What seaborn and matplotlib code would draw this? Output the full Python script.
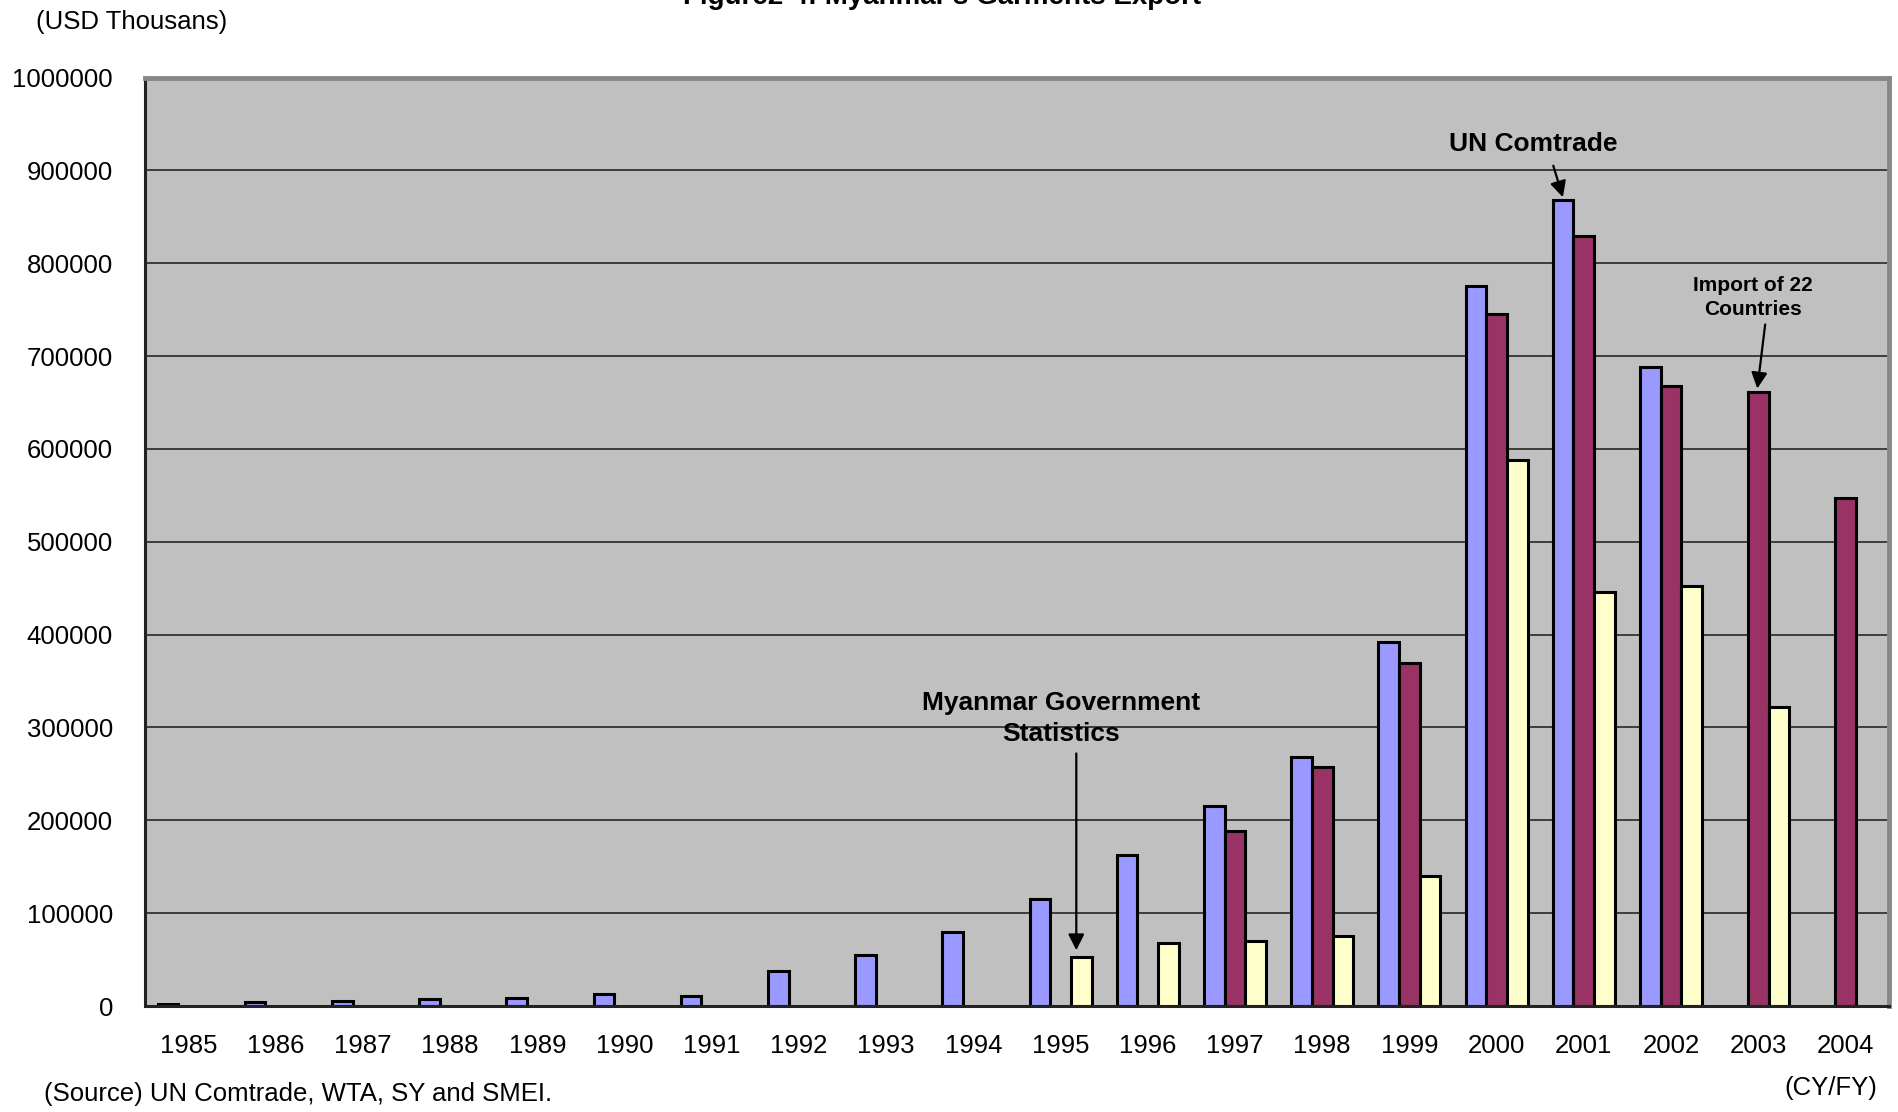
import numpy as np
import pandas as pd
import matplotlib
matplotlib.use("Agg")
import matplotlib.pyplot as plt
import seaborn as sns

# Annual garments export values (USD thousands); None = not available
years = list(range(1985, 2005))
un_comtrade = [2500, 4000, 5000, 8000, 9000, 13000, 11000, 38000, 55000, 80000,
               115000, 163000, 215000, 268000, 392000, 775000, 868000, 688000, None, None]
import_22 = [None, None, None, None, None, None, None, None, None, None,
             None, None, 189000, 257000, 369000, 745000, 829000, 668000, 661000, 547000]
gov_stats = [None, None, None, None, None, None, None, None, None, None,
             53000, 68000, 70000, 75000, 140000, 588000, 446000, 452000, 322000, None]

series_names = ["UN Comtrade", "Import of 22 Countries", "Myanmar Government Statistics"]
series_colors = ["#9999FF", "#993366", "#FFFFCC"]
y_ticks = list(range(0, 1000001, 100000))

rows = []
for name, vals in zip(series_names, [un_comtrade, import_22, gov_stats]):
    for yr, v in zip(years, vals):
        if v is not None:
            rows.append({"year": str(yr), "series": name, "value": v})
df = pd.DataFrame(rows)

sns.set_theme(style="white")
plt.rcParams["font.family"] = ["Liberation Sans", "DejaVu Sans"]
plt.rcParams["text.color"] = "black"
plt.rcParams["xtick.color"] = "black"
plt.rcParams["ytick.color"] = "black"
FS = 18.5

fig = plt.figure(figsize=(18.99, 11.12), dpi=100)
ax = fig.add_axes([145 / 1899, 1 - 1006 / 1112, (1889 - 145) / 1899, (1006 - 77.5) / 1112])
ax.set_facecolor("#C0C0C0")

sns.barplot(data=df, x="year", y="value", hue="series", hue_order=series_names,
            order=[str(y) for y in years], palette=series_colors, width=0.71,
            edgecolor="black", linewidth=2.2, errorbar=None, ax=ax, legend=False,
            saturation=1)

ax.set_xlim(-0.5, len(years) - 0.5)
ax.set_ylim(0, 1000000)
ax.set_yticks(y_ticks)
ax.set_yticklabels([str(t) for t in y_ticks], fontsize=FS)
ax.set_xticks(range(len(years)))
ax.set_xticklabels([str(y) for y in years], fontsize=FS)
ax.set_xticks(np.arange(-0.5, len(years), 1.0), minor=True)
ax.tick_params(axis="x", which="major", length=0, pad=20)
ax.tick_params(axis="x", which="minor", direction="in", length=9, width=1.2, color="#333333")
ax.tick_params(axis="y", which="major", direction="in", length=9, width=1.5, color="#333333", pad=23)
ax.set_xlabel("")
ax.set_ylabel("")

ax.set_axisbelow(True)
ax.yaxis.grid(True, color="#333333", linewidth=1.3)
ax.xaxis.grid(False)

for side in ["left", "bottom"]:
    ax.spines[side].set_color("#222222")
    ax.spines[side].set_linewidth(2.2)
for side in ["top", "right"]:
    ax.spines[side].set_color("#888888")
    ax.spines[side].set_linewidth(3.5)

# Series call-outs with arrows pointing at the bars
arrow = dict(arrowstyle="-|>", color="black", lw=1.6, mutation_scale=24,
             shrinkA=0, shrinkB=0)
ax.text(15.42, 915000, "UN Comtrade", ha="center", va="bottom",
        fontsize=19, fontweight="bold")
ax.annotate("", xy=(15.76, 871000), xytext=(15.65, 905000), arrowprops=arrow)

ax.text(10.0, 280000, "Myanmar Government\nStatistics", ha="center", va="bottom",
        fontsize=19, fontweight="bold", linespacing=1.35)
ax.annotate("", xy=(10.18, 60000), xytext=(10.18, 272000), arrowprops=arrow)

ax.text(17.94, 740000, "Import of 22\nCountries", ha="center", va="bottom",
        fontsize=15, fontweight="bold", linespacing=1.3)
ax.annotate("", xy=(17.99, 665000), xytext=(18.08, 734000), arrowprops=arrow)

fig.text(942 / 1899, 1.003, "Figure2-4: Myanmar's Garments Export", ha="center",
         va="center", fontsize=20, fontweight="bold")
fig.text(36 / 1899, 1 - 22 / 1112, "(USD Thousans)", ha="left", va="center", fontsize=FS)
fig.text(44 / 1899, 1 - 1094 / 1112, "(Source) UN Comtrade, WTA, SY and SMEI.",
         ha="left", va="center", fontsize=FS)
fig.text(1877 / 1899, 1 - 1088 / 1112, "(CY/FY)", ha="right", va="center", fontsize=FS)

fig.savefig("out.png", dpi=100)
